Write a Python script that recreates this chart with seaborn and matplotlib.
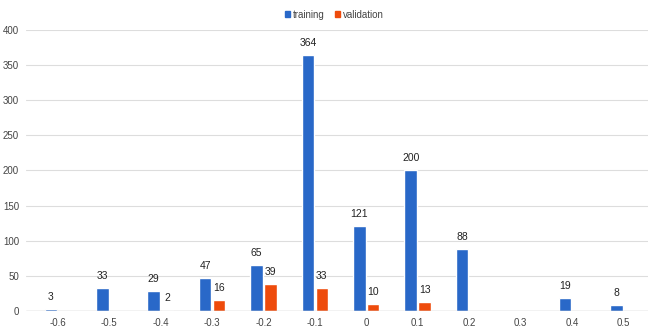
import numpy as np
import pandas as pd
import matplotlib
matplotlib.use("Agg")
import matplotlib.pyplot as plt
import seaborn as sns
from matplotlib.patches import Patch

bins = ["-0.6", "-0.5", "-0.4", "-0.3", "-0.2", "-0.1", "0", "0.1", "0.2", "0.3", "0.4", "0.5"]
training = [3, 33, 29, 47, 65, 364, 121, 200, 88, np.nan, 19, 8]
validation = [np.nan, np.nan, 2, 16, 39, 33, 10, 13, np.nan, np.nan, np.nan, np.nan]

colors = {"training": "#2968c8", "validation": "#ee4b0c"}

df = pd.DataFrame({"bin": bins * 2,
                   "count": training + validation,
                   "set": ["training"] * len(bins) + ["validation"] * len(bins)})

sns.set_style("white")
plt.rcParams["font.family"] = ["Liberation Sans", "DejaVu Sans"]

fig = plt.figure(figsize=(6.48, 3.29), dpi=100)
ax = fig.add_axes([0.0401, 0.055, 0.9614, 0.854])

sns.barplot(data=df, x="bin", y="count", hue="set", order=bins,
            hue_order=["training", "validation"], palette=colors,
            width=0.54, gap=0.1, ax=ax, legend=False, saturation=1)

for cont in ax.containers:
    labels = ["" if np.isnan(v) else f"{int(v)}" for v in cont.datavalues]
    ax.bar_label(cont, labels=labels, padding=5, fontsize=7.5, color="#222222")

ax.set_ylim(0, 400)
ax.set_yticks(range(0, 401, 50))
ax.set_xlim(-0.62, len(bins) - 0.5)
ax.yaxis.grid(True, color="#dddddd", linewidth=0.8)
ax.set_axisbelow(True)
ax.axhline(0, color="#aaaaaa", linewidth=0.9)
for s in ax.spines.values():
    s.set_visible(False)
ax.tick_params(axis="both", length=0, labelsize=7, colors="#444444")
ax.tick_params(axis="y", pad=5)
ax.tick_params(axis="x", pad=5)
ax.set_xlabel("")
ax.set_ylabel("")

handles = [Patch(color=colors[k], label=k) for k in ["training", "validation"]]
fig.legend(handles=handles, loc="center", bbox_to_anchor=(0.516, 0.955), ncol=2,
           frameon=False, fontsize=7, handlelength=0.55, handleheight=0.55,
           handletextpad=0.3, columnspacing=1.0, labelcolor="#444444")

fig.savefig("out.png", dpi=100)
